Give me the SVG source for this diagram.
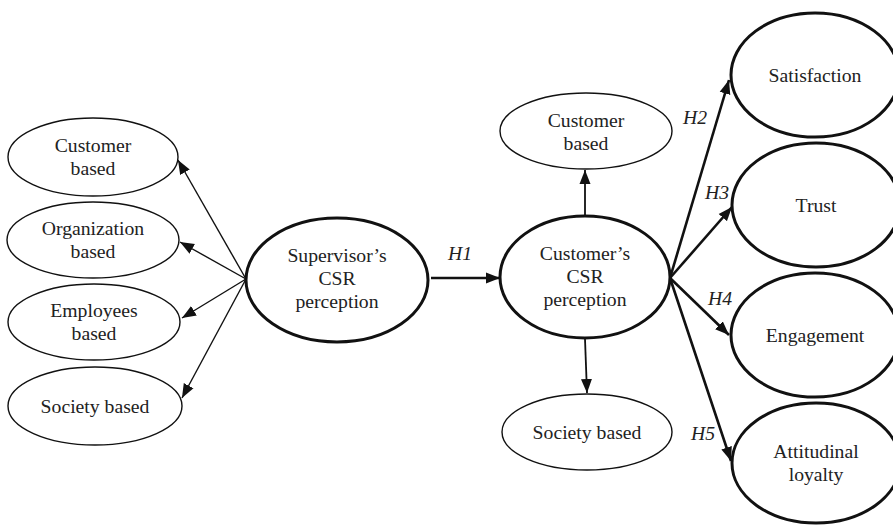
<svg xmlns="http://www.w3.org/2000/svg" width="893" height="526" viewBox="0 0 893 526">
<defs>
<style>
.thin{fill:#fff;stroke:#111;stroke-width:1.4}
.thick{fill:#fff;stroke:#111;stroke-width:3}
text{font-family:"Liberation Serif","Times New Roman",serif;font-size:19.7px;fill:#222;text-anchor:middle}
.h{font-style:italic}
.c1{stroke:#111;stroke-width:1.4;fill:none}
.c2{stroke:#111;stroke-width:1.8;fill:none}
.c3{stroke:#111;stroke-width:2.6;fill:none}
</style>
<marker id="ah" markerUnits="userSpaceOnUse" markerWidth="15" markerHeight="12" refX="14" refY="6" orient="auto">
<path d="M0,0.5 L14,6 L0,11.5 z" fill="#111"/>
</marker>
</defs>
<rect width="893" height="526" fill="#fff"/>
<g id="connectors">
<line class="c1" x1="246" y1="279" x2="178" y2="160" marker-end="url(#ah)"/>
<line class="c1" x1="246" y1="279" x2="180" y2="242" marker-end="url(#ah)"/>
<line class="c1" x1="246" y1="279" x2="182" y2="318" marker-end="url(#ah)"/>
<line class="c1" x1="246" y1="279" x2="182" y2="398" marker-end="url(#ah)"/>
<line class="c3" x1="431" y1="278" x2="500" y2="278" marker-end="url(#ah)"/>
<line class="c2" x1="585" y1="216" x2="585" y2="170" marker-end="url(#ah)"/>
<line class="c2" x1="585" y1="339" x2="587" y2="393" marker-end="url(#ah)"/>
<line class="c3" x1="670" y1="278" x2="729" y2="80" marker-end="url(#ah)"/>
<line class="c3" x1="670" y1="278" x2="732" y2="207" marker-end="url(#ah)"/>
<line class="c3" x1="670" y1="278" x2="729" y2="335" marker-end="url(#ah)"/>
<line class="c3" x1="670" y1="278" x2="731" y2="461" marker-end="url(#ah)"/>
<text class="h" x="460" y="260">H1</text>
<text class="h" x="695" y="124">H2</text>
<text class="h" x="717" y="199">H3</text>
<text class="h" x="720" y="305">H4</text>
<text class="h" x="703" y="440">H5</text>
</g>
<g id="sup-customer">
<ellipse class="thin" cx="93" cy="157" rx="85" ry="39"/>
<text x="93" y="152">Customer</text>
<text x="93" y="175">based</text>
</g>
<g id="sup-organization">
<ellipse class="thin" cx="93" cy="240" rx="86" ry="38"/>
<text x="93" y="235">Organization</text>
<text x="93" y="258">based</text>
</g>
<g id="sup-employees">
<ellipse class="thin" cx="94" cy="322" rx="86" ry="38"/>
<text x="94" y="317">Employees</text>
<text x="94" y="340">based</text>
</g>
<g id="sup-society">
<ellipse class="thin" cx="95" cy="406" rx="87" ry="39"/>
<text x="95" y="413">Society based</text>
</g>
<g id="supervisor">
<ellipse class="thick" cx="337" cy="280" rx="91" ry="62"/>
<text x="337" y="262">Supervisor’s</text>
<text x="337" y="285">CSR</text>
<text x="337" y="308">perception</text>
</g>
<g id="customer-csr">
<ellipse class="thick" cx="585" cy="277" rx="85" ry="61"/>
<text x="585" y="260">Customer’s</text>
<text x="585" y="283">CSR</text>
<text x="585" y="306">perception</text>
</g>
<g id="cus-customer">
<ellipse class="thin" cx="586" cy="131" rx="86" ry="38"/>
<text x="586" y="127">Customer</text>
<text x="586" y="150">based</text>
</g>
<g id="cus-society">
<ellipse class="thin" cx="587" cy="432" rx="85" ry="38"/>
<text x="587" y="439">Society based</text>
</g>
<g id="satisfaction">
<ellipse class="thick" cx="815" cy="75" rx="84" ry="62"/>
<text x="815" y="82">Satisfaction</text>
</g>
<g id="trust">
<ellipse class="thick" cx="816" cy="205" rx="84" ry="62"/>
<text x="816" y="212">Trust</text>
</g>
<g id="engagement">
<ellipse class="thick" cx="815" cy="335" rx="84" ry="62"/>
<text x="815" y="342">Engagement</text>
</g>
<g id="loyalty">
<ellipse class="thick" cx="816" cy="463" rx="84" ry="60"/>
<text x="816" y="458">Attitudinal</text>
<text x="816" y="481">loyalty</text>
</g>
</svg>
